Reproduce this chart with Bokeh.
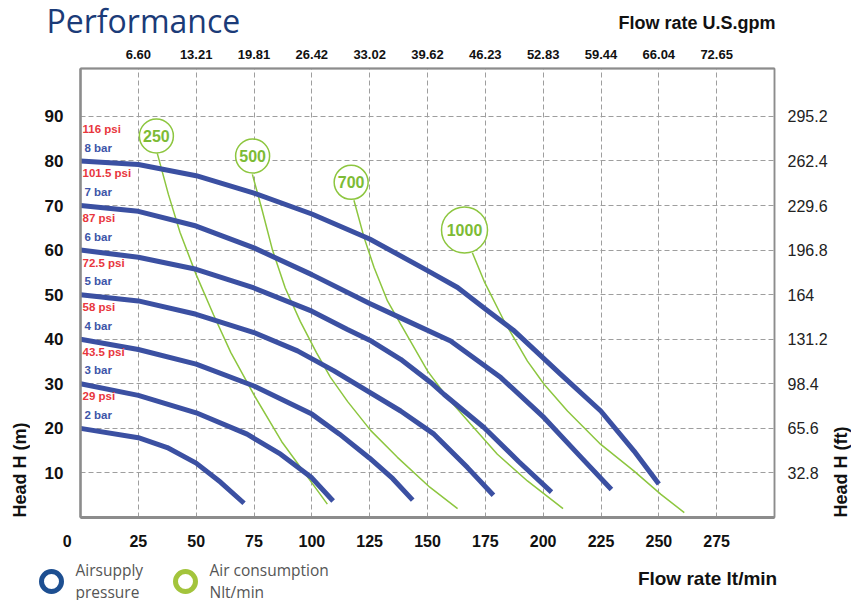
import math
from bokeh.plotting import figure
from bokeh.layouts import column, row
from bokeh.models import (LinearAxis, FixedTicker, Range1d, Label, Legend,
                          LegendItem, ColumnDataSource)
from bokeh.core.properties import value
from bokeh.embed import file_html
from bokeh.resources import INLINE

# ---------------- data ----------------
flow_ticks = [0, 25, 50, 75, 100, 125, 150, 175, 200, 225, 250, 275]
gpm_labels = ["6.60", "13.21", "19.81", "26.42", "33.02", "39.62",
              "46.23", "52.83", "59.44", "66.04", "72.65"]
head_ticks = [10, 20, 30, 40, 50, 60, 70, 80, 90]
ft_labels = ["32.8", "65.6", "98.4", "131.2", "164", "196.8", "229.6", "262.4", "295.2"]

bar_labels = ["8 bar", "7 bar", "6 bar", "5 bar", "4 bar", "3 bar", "2 bar"]
psi_labels = ["116 psi", "101.5 psi", "87 psi", "72.5 psi", "58 psi", "43.5 psi", "29 psi"]

flow_8bar = [0, 25, 50, 75, 100, 125, 150, 163, 176, 187, 207.6, 224.9, 239.3, 250]
head_8bar = [80, 79.2, 76.7, 72.8, 68.1, 62.5, 55.4, 51.6, 46.4, 42.1, 32.1, 23.9, 14.9, 7.5]

flow_7bar = [0, 25, 50, 75, 100, 125, 140, 160, 181.7, 200.4, 215.5, 229.5]
head_7bar = [70, 68.7, 65.4, 60.5, 54.5, 48.0, 44.4, 39.6, 31.4, 22.4, 14.0, 6.3]

flow_6bar = [0, 25, 50, 75, 100, 115.4, 125, 138.4, 151.4, 157.2, 174.4, 189.5, 203.6]
head_6bar = [60, 58.4, 55.7, 51.5, 46.3, 42.2, 39.8, 35.5, 30.3, 27.6, 20.2, 12.5, 5.7]

flow_5bar = [0, 25, 50, 75, 93.8, 109.6, 138.4, 152.8, 167.3, 178.5]
head_5bar = [50, 48.6, 45.6, 41.5, 37.4, 32.9, 23.9, 18.7, 11.2, 5.0]

flow_4bar = [0, 25, 50, 75, 100, 112, 125, 135, 143.6]
head_4bar = [40, 37.7, 34.4, 29.5, 23.2, 18.7, 13.3, 8.7, 3.9]

flow_3bar = [0, 25, 50, 72, 86.5, 100, 109.2]
head_3bar = [30, 27.4, 23.5, 18.7, 14.2, 8.9, 3.7]

flow_2bar = [0, 25, 37.5, 50, 60.6, 70.7]
head_2bar = [20, 17.9, 15.7, 12.2, 7.9, 3.2]

air_labels = ["250", "500", "700", "1000"]
air_badge_flow = [32.8, 74.4, 117.0, 166.0]
air_badge_head = [85.6, 81.1, 75.2, 64.5]

flow_air250 = [33.2, 38, 43, 50, 57.5, 65, 75, 87, 99, 106.7]
head_air250 = [81.7, 72.5, 64, 54.5, 45.5, 37, 27.5, 17, 8.5, 3.0]

flow_air500 = [74.3, 78.5, 83, 88.5, 95, 102, 108, 115.5, 125.5, 137, 151, 163]
head_air500 = [77, 69, 60, 51.5, 44, 37, 31.5, 26, 19.5, 13.5, 6.8, 2.0]

flow_air700 = [118.2, 122.6, 126.9, 132.7, 138.4, 150, 158.6, 168.7, 180.2, 193.2, 208.6]
head_air700 = [71.2, 62.8, 56.1, 48.6, 43.4, 32.9, 26.9, 20.9, 14.2, 8.2, 2.0]

flow_air1000 = [169.4, 174.5, 183.1, 193.2, 200.4, 210.5, 224.9, 239.3, 250.9, 261]
head_air1000 = [59.4, 53, 44.1, 35.1, 29.9, 23.9, 16.4, 10.4, 5.2, 1.1]

legend_labels = ["Airsupply\npressure", "Air consumption\nNlt/min"]

# ---------------- layout constants ----------------
PAGE_W = 851
HEAD_H = 40          # header strip (title row)
FOOT_H = 40          # footer strip (legend row)
LEFT_W = 30          # strip holding the left axis title
RIGHT_W = 20         # strip holding the right axis title
MAIN_W = PAGE_W - LEFT_W - RIGHT_W
MAIN_H = 600 - HEAD_H - FOOT_H
BL, BR, BT, BB = 50, 57, 28, 43
X0, X1 = 0, 300
Y0, Y1 = 0, 100.75

BLUE = "#3b50a2"
GREEN = "#8dc63f"
GREEN_TXT = "#7dbb35"
RED = "#e8363d"
BAR_BLUE = "#3d55a8"
GRID = "#9e9e9e"
AXIS = "#8c8c8c"
SANS = "Liberation Sans"
DARK = "#111111"


def strip(w, h):
    f = figure(width=w, height=h, x_range=Range1d(0, w), y_range=Range1d(0, h),
               output_backend="svg", toolbar_location=None,
               x_axis_type=None, y_axis_type=None,
               min_border_left=0, min_border_right=0, min_border_top=0, min_border_bottom=0)
    f.outline_line_color = None
    f.xgrid.visible = False
    f.ygrid.visible = False
    f.background_fill_color = "white"
    f.border_fill_color = "white"
    return f


# ---------------- main chart ----------------
p = figure(width=MAIN_W, height=MAIN_H, x_range=Range1d(X0, X1), y_range=Range1d(Y0, Y1),
           output_backend="svg", toolbar_location=None,
           min_border_left=BL, min_border_right=BR, min_border_top=BT, min_border_bottom=BB)
p.background_fill_color = "white"
p.border_fill_color = "white"
p.outline_line_color = AXIS
p.outline_line_width = 1.5

p.xgrid.ticker = FixedTicker(ticks=flow_ticks[1:])
p.ygrid.ticker = FixedTicker(ticks=head_ticks)
for g in (p.xgrid, p.ygrid):
    g.grid_line_color = GRID
    g.grid_line_dash = "5 3"
    g.grid_line_width = 1


def style_axis(ax, size, bold, standoff, width, color=DARK):
    ax.major_tick_line_color = None
    ax.minor_tick_line_color = None
    ax.major_tick_out = 0
    ax.major_tick_in = 0
    ax.axis_line_color = AXIS
    ax.axis_line_width = width
    ax.major_label_text_font = SANS
    ax.major_label_text_font_size = size
    ax.major_label_text_font_style = "bold" if bold else "normal"
    ax.major_label_text_color = color
    ax.major_label_standoff = standoff


xb = p.xaxis[0]
xb.ticker = FixedTicker(ticks=flow_ticks)
# the "0" of the reference sits a little left of the axis corner
xb.major_label_overrides = {flow_ticks[0]: str(flow_ticks[0]) + " " * 6}
style_axis(xb, "16px", True, 15, 3)

yl = p.yaxis[0]
yl.ticker = FixedTicker(ticks=head_ticks)
style_axis(yl, "17px", True, 17, 2.5)

xt = LinearAxis(ticker=FixedTicker(ticks=flow_ticks[1:]),
                major_label_overrides=dict(zip(flow_ticks[1:], gpm_labels)))
style_axis(xt, "13px", True, 10, 2)
p.add_layout(xt, "above")

yr = LinearAxis(ticker=FixedTicker(ticks=head_ticks),
                major_label_overrides=dict(zip(head_ticks, ft_labels)))
style_axis(yr, "16px", False, 13, 1.5, "#222222")
p.add_layout(yr, "right")

# air consumption curves
for fx, hy in [(flow_air250, head_air250), (flow_air500, head_air500),
               (flow_air700, head_air700), (flow_air1000, head_air1000)]:
    p.line(fx, hy, line_color=GREEN, line_width=1.5)

# pressure curves
pressure = [(flow_8bar, head_8bar), (flow_7bar, head_7bar), (flow_6bar, head_6bar),
            (flow_5bar, head_5bar), (flow_4bar, head_4bar), (flow_3bar, head_3bar),
            (flow_2bar, head_2bar)]
for fx, hy in pressure:
    p.line(fx, hy, line_color=BLUE, line_width=5, line_join="round")

start_heads = [hy[0] for _, hy in pressure]
lab_src = ColumnDataSource(dict(
    x=[0] * len(start_heads),
    y_psi=[h + 7.2 for h in start_heads],
    y_bar=[h + 3.0 for h in start_heads],
    psi=psi_labels, bar=bar_labels))
p.text(x="x", y="y_psi", text="psi", source=lab_src, x_offset=2,
       text_font=value(SANS), text_font_style="bold", text_font_size="11.5px",
       text_color=RED, text_align="left", text_baseline="middle")
p.text(x="x", y="y_bar", text="bar", source=lab_src, x_offset=4,
       text_font=value(SANS), text_font_style="bold", text_font_size="11.5px",
       text_color=BAR_BLUE, text_align="left", text_baseline="middle")

badge_src = ColumnDataSource(dict(
    x=air_badge_flow, y=air_badge_head, t=air_labels,
    size=[34 if len(t) < 4 else 46 for t in air_labels]))
p.scatter(x="x", y="y", size="size", marker="circle", source=badge_src,
          fill_color="white", line_color=GREEN, line_width=1.5)
p.text(x="x", y="y", text="t", source=badge_src,
       text_font=value(SANS), text_font_style="bold", text_font_size="16px",
       text_color=GREEN_TXT, text_align="center", text_baseline="middle")

# ---------------- header ----------------
head = strip(PAGE_W, HEAD_H)
head.add_layout(Label(x=46, y=HEAD_H - 19.5, text="Performance", text_align="left",
                      text_baseline="alphabetic", text_font="Open Sans",
                      text_font_size="32px", text_color="#1b3b78"))
head.add_layout(Label(x=775, y=HEAD_H - 22.5, text="Flow rate U.S.gpm", text_align="right",
                      text_baseline="alphabetic", text_font=SANS, text_font_style="bold",
                      text_font_size="18px", text_color=DARK))

# ---------------- side strips ----------------
left = strip(LEFT_W, MAIN_H)
left.add_layout(Label(x=19, y=0, text="Head H (m)", angle=math.pi / 2,
                      text_align="left", text_baseline="middle", text_font=SANS,
                      text_font_style="bold", text_font_size="18px", text_color=DARK))
right = strip(RIGHT_W, MAIN_H)
right.add_layout(Label(x=9, y=0, text="Head H (ft)", angle=math.pi / 2,
                       text_align="left", text_baseline="middle", text_font=SANS,
                       text_font_style="bold", text_font_size="18px", text_color=DARK))

# ---------------- footer (legend) ----------------
foot = strip(PAGE_W, FOOT_H)
r_blue = foot.scatter(x=[0], y=[0], marker="circle", fill_color=None,
                      line_color="#1d4f91", line_width=5, visible=False)
r_green = foot.scatter(x=[0], y=[0], marker="circle", fill_color=None,
                       line_color="#a3c43c", line_width=5, visible=False)
legend = Legend(items=[LegendItem(label=legend_labels[0], renderers=[r_blue], index=0),
                       LegendItem(label=legend_labels[1], renderers=[r_green], index=0)],
                orientation="horizontal", location=(25.5, -6),
                glyph_width=50, glyph_height=50, label_standoff=0, label_width=84,
                spacing=0, padding=0, margin=0, border_line_color=None,
                background_fill_alpha=0, inactive_fill_alpha=0,
                label_text_font="Open Sans",
                label_text_font_size="15.5px", label_text_color="#555555",
                label_text_line_height=0.9)
foot.add_layout(legend)
foot.add_layout(Label(x=782, y=FOOT_H - 18, text="Flow rate  lt/min", text_align="right",
                      text_baseline="alphabetic", text_font=SANS, text_font_style="bold",
                      text_font_size="19px", text_color=DARK))

layout = column(head, row(left, p, right), foot)
open("out.html", "w").write(file_html(layout, INLINE))
